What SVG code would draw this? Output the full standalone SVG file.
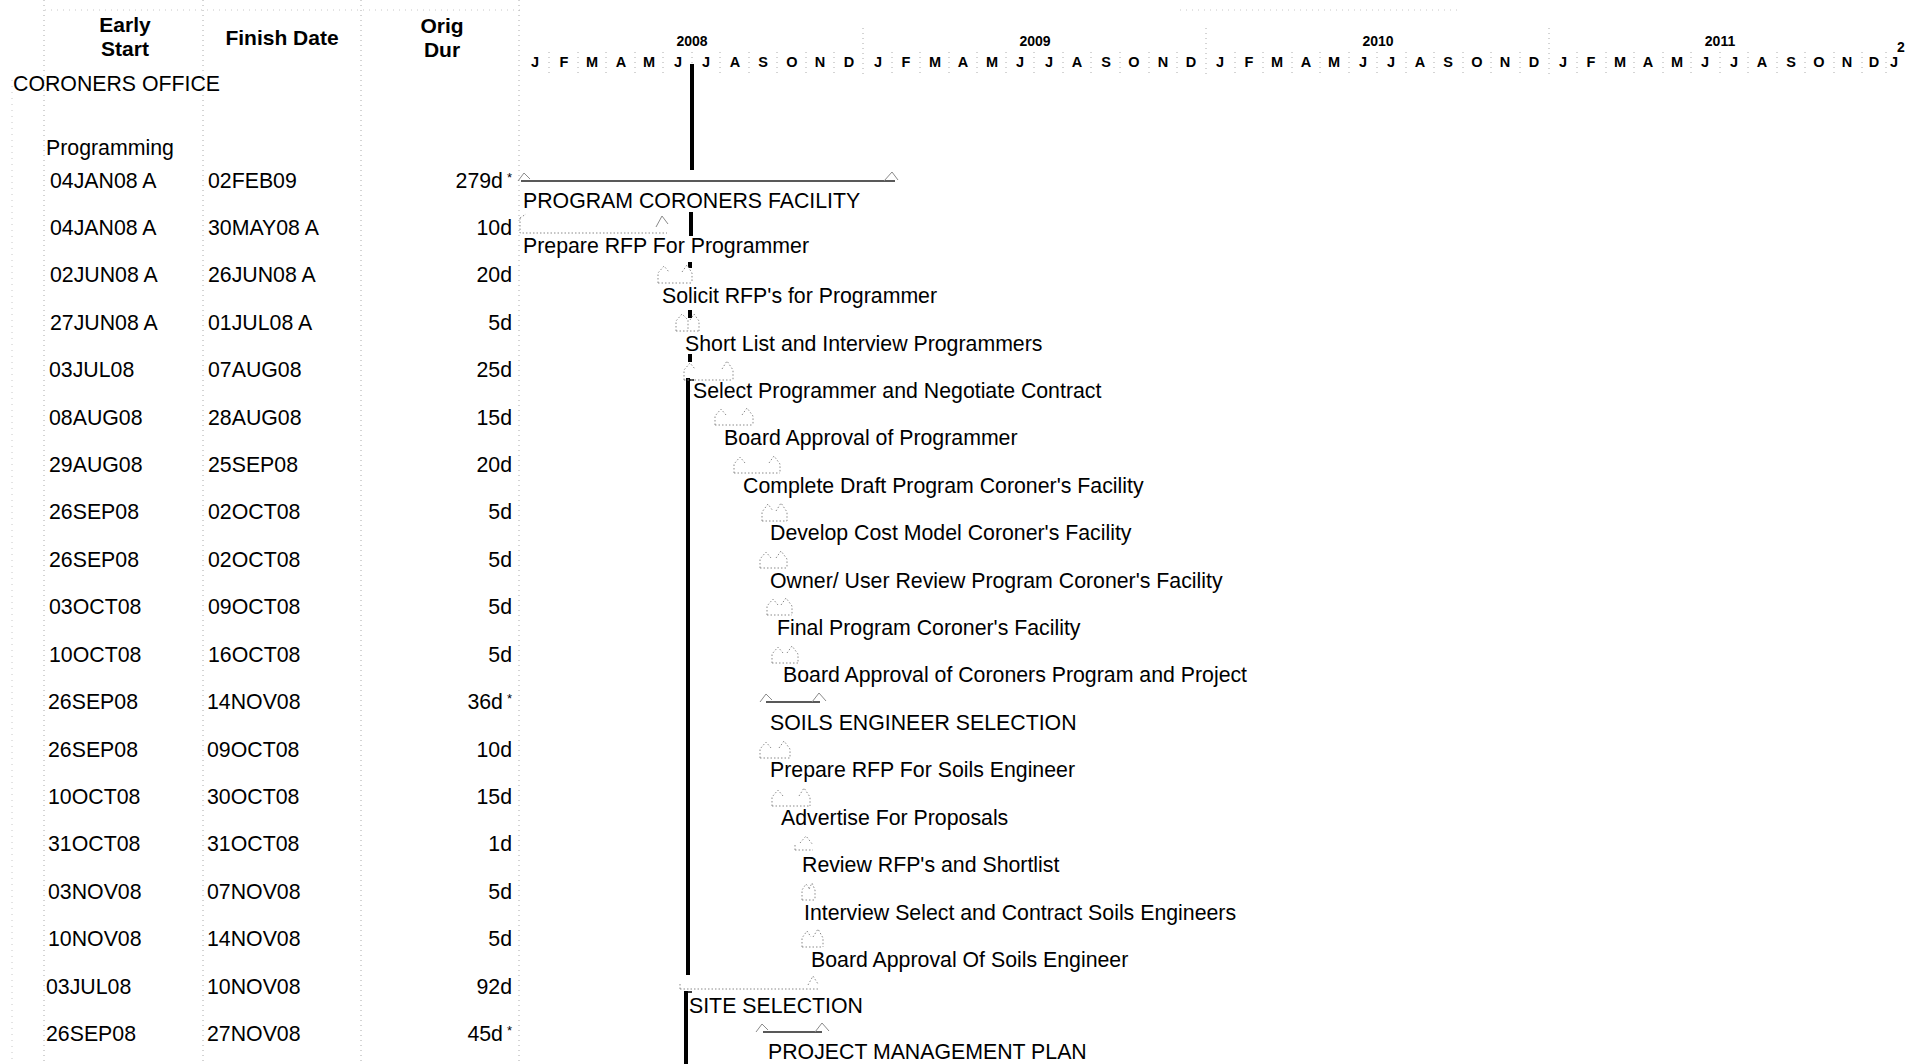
<svg xmlns="http://www.w3.org/2000/svg" width="1907" height="1064" viewBox="0 0 1907 1064">
<defs>
<style>
text{font-family:"Liberation Sans",Arial,sans-serif;fill:#000}
.t{font-size:21.3px}
.h{font-size:21px;font-weight:bold;text-anchor:middle}
.mo{font-size:14.5px;font-weight:bold;text-anchor:middle}
.yr{font-size:14px;font-weight:bold;text-anchor:middle}
.dur{font-size:21.3px;text-anchor:end}
.ast{font-size:13px}
.grid{stroke:#aaa;stroke-width:1;stroke-dasharray:1 4;fill:none}
.grid2{stroke:#c8c8c8;stroke-width:1;stroke-dasharray:1 5;fill:none}
.bar{stroke:#8a8a8a;stroke-width:1;stroke-dasharray:1.5 2;fill:none}
.cap{stroke:#8a8a8a;stroke-width:1;fill:none}
.sum{stroke:#222;stroke-width:1.6;fill:none}
.dd{stroke:#000;stroke-width:4;fill:none}
</style>
</defs>
<rect width="1907" height="1064" fill="#fff"/>

<g id="grid">
<line class="grid2" x1="45" y1="10" x2="520" y2="10"/>
<line class="grid2" x1="1180" y1="10" x2="1460" y2="10"/>
<line class="grid2" x1="12" y1="80" x2="12" y2="1064"/>
<line class="grid" x1="44" y1="0" x2="44" y2="1064"/>
<line class="grid" x1="203" y1="0" x2="203" y2="1064"/>
<line class="grid" x1="361" y1="0" x2="361" y2="1064"/>
<line class="grid" x1="519" y1="0" x2="519" y2="1064"/>
<line class="grid" x1="863" y1="28" x2="863" y2="74"/>
<line class="grid" x1="1206" y1="28" x2="1206" y2="74"/>
<line class="grid" x1="1549" y1="28" x2="1549" y2="74"/>
<path class="grid" d="M549 52V74M578 52V74M606 52V74M635 52V74M663 52V74M692 52V74M720 52V74M749 52V74M777 52V74M806 52V74M834 52V74M892 52V74M920 52V74M949 52V74M977 52V74M1006 52V74M1034 52V74M1063 52V74M1091 52V74M1120 52V74M1149 52V74M1177 52V74M1235 52V74M1263 52V74M1292 52V74M1320 52V74M1349 52V74M1377 52V74M1406 52V74M1434 52V74M1463 52V74M1491 52V74M1520 52V74M1577 52V74M1606 52V74M1634 52V74M1663 52V74M1691 52V74M1720 52V74M1748 52V74M1777 52V74M1805 52V74M1834 52V74M1862 52V74M1886 52V74"/>
</g>

<g id="header">
<text class="h" x="125" y="32">Early</text>
<text class="h" x="125" y="56">Start</text>
<text class="h" x="282" y="45">Finish Date</text>
<text class="h" x="442" y="33">Orig</text>
<text class="h" x="442" y="57">Dur</text>
<text class="yr" x="692" y="46">2008</text>
<text class="yr" x="1035" y="46">2009</text>
<text class="yr" x="1378" y="46">2010</text>
<text class="yr" x="1720" y="46">2011</text>
<text class="yr" x="1901" y="52">2</text>
</g>

<g id="months">
<text class="mo" x="535" y="67">J</text><text class="mo" x="564" y="67">F</text><text class="mo" x="592" y="67">M</text><text class="mo" x="621" y="67">A</text><text class="mo" x="649" y="67">M</text><text class="mo" x="678" y="67">J</text><text class="mo" x="706" y="67">J</text><text class="mo" x="735" y="67">A</text><text class="mo" x="763" y="67">S</text><text class="mo" x="792" y="67">O</text><text class="mo" x="820" y="67">N</text><text class="mo" x="849" y="67">D</text>
<text class="mo" x="878" y="67">J</text><text class="mo" x="906" y="67">F</text><text class="mo" x="935" y="67">M</text><text class="mo" x="963" y="67">A</text><text class="mo" x="992" y="67">M</text><text class="mo" x="1020" y="67">J</text><text class="mo" x="1049" y="67">J</text><text class="mo" x="1077" y="67">A</text><text class="mo" x="1106" y="67">S</text><text class="mo" x="1134" y="67">O</text><text class="mo" x="1163" y="67">N</text><text class="mo" x="1191" y="67">D</text>
<text class="mo" x="1220" y="67">J</text><text class="mo" x="1249" y="67">F</text><text class="mo" x="1277" y="67">M</text><text class="mo" x="1306" y="67">A</text><text class="mo" x="1334" y="67">M</text><text class="mo" x="1363" y="67">J</text><text class="mo" x="1391" y="67">J</text><text class="mo" x="1420" y="67">A</text><text class="mo" x="1448" y="67">S</text><text class="mo" x="1477" y="67">O</text><text class="mo" x="1505" y="67">N</text><text class="mo" x="1534" y="67">D</text>
<text class="mo" x="1563" y="67">J</text><text class="mo" x="1591" y="67">F</text><text class="mo" x="1620" y="67">M</text><text class="mo" x="1648" y="67">A</text><text class="mo" x="1677" y="67">M</text><text class="mo" x="1705" y="67">J</text><text class="mo" x="1734" y="67">J</text><text class="mo" x="1762" y="67">A</text><text class="mo" x="1791" y="67">S</text><text class="mo" x="1819" y="67">O</text><text class="mo" x="1847" y="67">N</text><text class="mo" x="1874" y="67">D</text><text class="mo" x="1894" y="67">J</text>
</g>

<g id="wbs">
<text class="t" x="13" y="91">CORONERS OFFICE</text>
<text class="t" x="46" y="155">Programming</text>
</g>

<g id="table">
<text class="t" x="50" y="188">04JAN08 A</text><text class="t" x="208" y="188">02FEB09</text><text class="dur" x="512" y="188">279d<tspan class="ast" dx="4" dy="-6">*</tspan></text>
<text class="t" x="50" y="235">04JAN08 A</text><text class="t" x="208" y="235">30MAY08 A</text><text class="dur" x="512" y="235">10d</text>
<text class="t" x="50" y="282">02JUN08 A</text><text class="t" x="208" y="282">26JUN08 A</text><text class="dur" x="512" y="282">20d</text>
<text class="t" x="50" y="330">27JUN08 A</text><text class="t" x="208" y="330">01JUL08 A</text><text class="dur" x="512" y="330">5d</text>
<text class="t" x="49" y="377">03JUL08</text><text class="t" x="208" y="377">07AUG08</text><text class="dur" x="512" y="377">25d</text>
<text class="t" x="49" y="425">08AUG08</text><text class="t" x="208" y="425">28AUG08</text><text class="dur" x="512" y="425">15d</text>
<text class="t" x="49" y="472">29AUG08</text><text class="t" x="208" y="472">25SEP08</text><text class="dur" x="512" y="472">20d</text>
<text class="t" x="49" y="519">26SEP08</text><text class="t" x="208" y="519">02OCT08</text><text class="dur" x="512" y="519">5d</text>
<text class="t" x="49" y="567">26SEP08</text><text class="t" x="208" y="567">02OCT08</text><text class="dur" x="512" y="567">5d</text>
<text class="t" x="49" y="614">03OCT08</text><text class="t" x="208" y="614">09OCT08</text><text class="dur" x="512" y="614">5d</text>
<text class="t" x="49" y="662">10OCT08</text><text class="t" x="208" y="662">16OCT08</text><text class="dur" x="512" y="662">5d</text>
<text class="t" x="48" y="709">26SEP08</text><text class="t" x="207" y="709">14NOV08</text><text class="dur" x="512" y="709">36d<tspan class="ast" dx="4" dy="-6">*</tspan></text>
<text class="t" x="48" y="757">26SEP08</text><text class="t" x="207" y="757">09OCT08</text><text class="dur" x="512" y="757">10d</text>
<text class="t" x="48" y="804">10OCT08</text><text class="t" x="207" y="804">30OCT08</text><text class="dur" x="512" y="804">15d</text>
<text class="t" x="48" y="851">31OCT08</text><text class="t" x="207" y="851">31OCT08</text><text class="dur" x="512" y="851">1d</text>
<text class="t" x="48" y="899">03NOV08</text><text class="t" x="207" y="899">07NOV08</text><text class="dur" x="512" y="899">5d</text>
<text class="t" x="48" y="946">10NOV08</text><text class="t" x="207" y="946">14NOV08</text><text class="dur" x="512" y="946">5d</text>
<text class="t" x="46" y="994">03JUL08</text><text class="t" x="207" y="994">10NOV08</text><text class="dur" x="512" y="994">92d</text>
<text class="t" x="46" y="1041">26SEP08</text><text class="t" x="207" y="1041">27NOV08</text><text class="dur" x="512" y="1041">45d<tspan class="ast" dx="4" dy="-6">*</tspan></text>
</g>

<g id="connectors">
<path class="dd" d="M692 64V170M691 212V236M690 262V268M690 310V318M690 354V362M688 378V975M686 991V1064"/>
<path stroke="#000" stroke-width="1.5" d="M688 380H694M686 992H692"/>
</g>

<g id="bars">
<g id="bar-program"><line class="sum" x1="521" y1="181" x2="895" y2="181"/><path class="cap" d="M518 181L524 173L530 179M884 181L892 172L898 180"/></g>
<g id="bar-prep-rfp"><path class="bar" d="M520 218V233H667M520 218L526 214"/><path class="cap" d="M656 227L662 216L668 224"/></g>
<g id="bar-solicit"><path class="bar" d="M658 283H692M658 283V273L664 266L669 272M682 272L687 265L692 273V283"/></g>
<g id="bar-shortlist"><path class="bar" d="M676 331H699M676 331V321L682 314L688 320V331M690 320L694 314L699 321V331"/></g>
<g id="bar-select"><path class="bar" d="M684 380H733M684 380V370L690 363L695 369M722 369L727 361L733 370V380"/></g>
<g id="bar-board-prog"><path class="bar" d="M715 425H753M715 425V416L721 409L726 415M742 415L747 408L753 416V425"/></g>
<g id="bar-draft"><path class="bar" d="M734 473H780M734 473V464L740 457L745 463M769 463L774 456L780 464V473"/></g>
<g id="bar-cost"><path class="bar" d="M762 521H787M762 521V512L768 504L773 511M776 511L781 503L787 512V521"/></g>
<g id="bar-owner"><path class="bar" d="M760 568H787M760 568V559L766 552L771 558M776 558L781 551L787 559V568"/></g>
<g id="bar-final"><path class="bar" d="M767 615H792M767 615V606L773 599L778 605M781 605L786 598L792 606V615"/></g>
<g id="bar-board-cor"><path class="bar" d="M772 663H798M772 663V654L778 647L783 653M787 653L792 646L798 654V663"/></g>
<g id="bar-soils"><line class="sum" x1="766" y1="702" x2="820" y2="702"/><path class="cap" d="M760 702L766 694L772 700M812 702L819 693L826 701"/></g>
<g id="bar-prep-soils"><path class="bar" d="M760 758H790M760 758V749L766 742L771 748M779 748L784 741L790 749V758"/></g>
<g id="bar-advertise"><path class="bar" d="M772 806H810M772 806V797L778 790L783 796M799 796L804 788L810 797V806"/></g>
<g id="bar-review"><path class="bar" d="M795 850H813M795 850V843M800 843L806 836L813 845"/></g>
<g id="bar-interview"><path class="bar" d="M802 900H815M802 900V890L806 884L810 889M809 889L812 883L815 890V900"/></g>
<g id="bar-board-soils"><path class="bar" d="M802 947H823M802 947V938L807 931L811 937M813 937L818 929L823 938V947"/></g>
<g id="bar-site"><path class="bar" d="M680 989H818M680 989V982"/><path class="cap" d="M808 985L813 976L818 984" stroke-dasharray="1.5 2"/></g>
<g id="bar-pmp"><line class="sum" x1="763" y1="1032" x2="822" y2="1032"/><path class="cap" d="M756 1032L762 1024L768 1030M815 1032L822 1023L829 1031"/></g>
</g>

<g id="labels">
<text class="t" x="523" y="208">PROGRAM CORONERS FACILITY</text>
<text class="t" x="523" y="253">Prepare RFP For Programmer</text>
<text class="t" x="662" y="303">Solicit RFP's for Programmer</text>
<text class="t" x="685" y="351">Short List and Interview Programmers</text>
<text class="t" x="693" y="398">Select Programmer and Negotiate Contract</text>
<text class="t" x="724" y="445">Board Approval of Programmer</text>
<text class="t" x="743" y="493">Complete Draft Program Coroner's Facility</text>
<text class="t" x="770" y="540">Develop Cost Model Coroner's Facility</text>
<text class="t" x="770" y="588">Owner/ User Review Program Coroner's Facility</text>
<text class="t" x="777" y="635">Final Program Coroner's Facility</text>
<text class="t" x="783" y="682">Board Approval of Coroners Program and Project</text>
<text class="t" x="770" y="730">SOILS ENGINEER SELECTION</text>
<text class="t" x="770" y="777">Prepare RFP For Soils Engineer</text>
<text class="t" x="781" y="825">Advertise For Proposals</text>
<text class="t" x="802" y="872">Review RFP's and Shortlist</text>
<text class="t" x="804" y="920">Interview Select and Contract Soils Engineers</text>
<text class="t" x="811" y="967">Board Approval Of Soils Engineer</text>
<text class="t" x="689" y="1013">SITE SELECTION</text>
<text class="t" x="768" y="1059">PROJECT MANAGEMENT PLAN</text>
</g>
</svg>
